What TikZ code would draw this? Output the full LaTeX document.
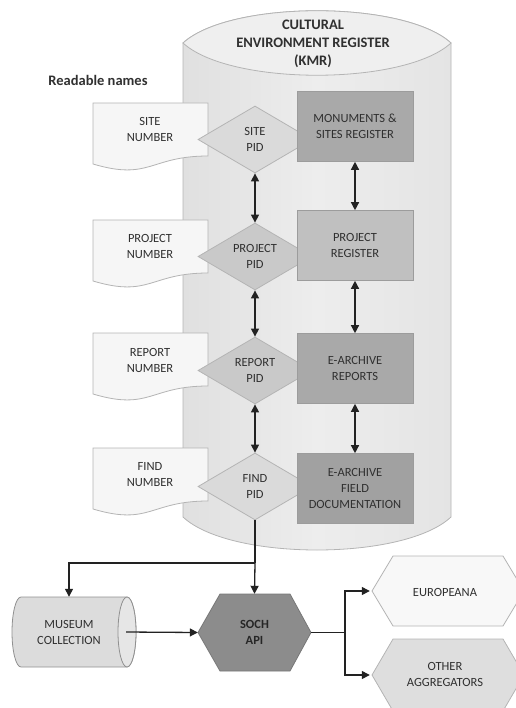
\documentclass[tikz,border=0pt]{standalone}
\usepackage{fontspec}
\setmainfont{Carlito}
\usetikzlibrary{arrows.meta,shapes.geometric}
\definecolor{txtc}{HTML}{303030}
\definecolor{kmrA}{HTML}{E0E0E0}
\definecolor{kmrB}{HTML}{EDEDED}
\definecolor{kmrC}{HTML}{E4E4E4}
\definecolor{lidc}{HTML}{EFEFEF}
\definecolor{edgec}{HTML}{B4B4B4}
\definecolor{docc}{HTML}{F6F6F6}
\definecolor{pidL}{HTML}{DADADA}
\definecolor{pidD}{HTML}{C9C9C9}
\definecolor{regD}{HTML}{A9A9A9}
\definecolor{regL}{HTML}{C0C0C0}
\definecolor{regE}{HTML}{9C9C9C}
\definecolor{museumc}{HTML}{DCDCDC}
\definecolor{museumend}{HTML}{E6E6E6}
\definecolor{sochc}{HTML}{8C8C8C}
\definecolor{eurc}{HTML}{F8F8F8}
\definecolor{othc}{HTML}{DEDEDE}
\definecolor{arrc}{HTML}{222222}
\tikzset{
  txt/.style={align=center, text=txtc, font=\fontsize{12.5}{16}\selectfont, inner sep=0pt},
  boldtxt/.style={align=center, text=txtc, font=\bfseries\fontsize{14.5}{18}\selectfont, inner sep=0pt},
  shapeedge/.style={draw=edgec, line width=0.8pt},
  docshape/.style={shapeedge, fill=docc},
  pid/.style={txt, shape=diamond, shape aspect=1.7, minimum width=114pt, minimum height=67pt, draw=edgec, line width=0.8pt},
  regbox/.style={txt, rectangle, minimum width=116pt, minimum height=70pt, draw=regE, line width=0.6pt},
  dbl/.style={draw=arrc, line width=1.3pt, {Triangle[length=8pt,width=8pt]}-{Triangle[length=8pt,width=8pt]}},
  arr/.style={draw=arrc, line width=1.3pt, -{Triangle[length=8pt,width=8pt]}},
  plainline/.style={draw=arrc, line width=1.3pt},
}
\newcommand\docpath[1]{(93,#1) -- (208,#1) -- (208,#1+53) .. controls (150,#1+53) and (150,#1+78) .. (93,#1+61) -- cycle}
\begin{document}
\begin{tikzpicture}[x=1pt,y=-1pt]
\useasboundingbox (0,0) rectangle (515,708);
% KMR cylinder
\shade[left color=kmrA, right color=kmrC, middle color=kmrB]
  (183,43) -- (183,517) .. controls (230,561) and (404,561) .. (451,517) -- (451,43)
  .. controls (404,0) and (230,0) .. (183,43) -- cycle;
\draw[shapeedge]
  (183,43) -- (183,517) .. controls (230,561) and (404,561) .. (451,517) -- (451,43)
  .. controls (404,0) and (230,0) .. (183,43) -- cycle;
\draw[shapeedge, fill=lidc]
  (183,43) .. controls (230,0) and (404,0) .. (451,43)
  .. controls (404,86) and (230,86) .. (183,43) -- cycle;
\node[boldtxt] (kmr) at (313,44) {CULTURAL\\ENVIRONMENT REGISTER\\(KMR)};
\node[boldtxt, anchor=center] (readable) at (98,80) {Readable names};
% documents
\draw[docshape] \docpath{103};
\node[txt] (sitenum) at (150,129) {SITE\\NUMBER};
\draw[docshape] \docpath{220};
\node[txt] (projnum) at (150,246) {PROJECT\\NUMBER};
\draw[docshape] \docpath{333};
\node[txt] (repnum) at (150,360) {REPORT\\NUMBER};
\draw[docshape] \docpath{448};
\node[txt] (findnum) at (150,475) {FIND\\NUMBER};
% PIDs
\node[pid, fill=pidL] (sitepid) at (255,139.5) {SITE\\PID};
\node[pid, fill=pidD] (projpid) at (255,256.5) {PROJECT\\PID};
\node[pid, fill=pidD] (reppid) at (255,370.5) {REPORT\\PID};
\node[pid, fill=pidL] (findpid) at (255,486.5) {FIND\\PID};
% registers
\node[regbox, fill=regD] (msr) at (355,126.5) {MONUMENTS \&\\SITES REGISTER};
\node[regbox, fill=regL] (projreg) at (355,245.5) {PROJECT\\REGISTER};
\node[regbox, fill=regD] (earch) at (355,368.5) {E-ARCHIVE\\REPORTS};
\node[regbox, fill=regD!95!black] (efield) at (355,488.5) {E-ARCHIVE\\FIELD\\DOCUMENTATION};
% double arrows
\draw[dbl] (sitepid.south) -- (projpid.north);
\draw[dbl] (projpid.south) -- (reppid.north);
\draw[dbl] (reppid.south) -- (findpid.north);
\draw[dbl] (msr.south) -- (projreg.north);
\draw[dbl] (projreg.south) -- (earch.north);
\draw[dbl] (earch.south) -- (efield.north);
% museum collection cylinder
\draw[draw=edgec!80!black, line width=0.8pt, fill=museumc]
  (21,597) -- (127,597) .. controls (132,597) and (136,612.7) .. (136,632)
  .. controls (136,651.3) and (132,667) .. (127,667) -- (21,667)
  .. controls (16,667) and (12,651.3) .. (12,632)
  .. controls (12,612.7) and (16,597) .. (21,597) -- cycle;
\draw[draw=edgec!80!black, line width=0.8pt, fill=museumend] (127,632) ellipse [x radius=9, y radius=35];
\node[txt, minimum width=114pt, minimum height=70pt] (museum) at (69,632) {MUSEUM\\COLLECTION};
% SOCH API
\draw[draw=sochc!85!black, line width=0.8pt, fill=sochc]
  (198,632.5) -- (220,594) -- (290,594) -- (311,632.5) -- (290,671) -- (220,671) -- cycle;
\node[txt, font=\bfseries\fontsize{12.5}{16}\selectfont, text=black!85, minimum width=113pt, minimum height=77pt] (soch) at (254.5,632.5) {SOCH\\API};
% Europeana
\draw[shapeedge, fill=eurc]
  (372,591) -- (393,556) -- (503,556) -- (524,591) -- (503,626) -- (393,626) -- cycle;
\node[txt, minimum width=152pt, minimum height=70pt] (europeana) at (448,591) {};
\node[txt] (eurlabel) at (445,592) {EUROPEANA};
% Other aggregators
\draw[shapeedge, fill=othc]
  (372,675) -- (393,639) -- (503,639) -- (524,675) -- (503,711) -- (393,711) -- cycle;
\node[txt, minimum width=152pt, minimum height=72pt] (others) at (448,675) {};
\node[txt] (othlabel) at (445,674) {OTHER\\AGGREGATORS};
% connectors
\coordinate (split) at (255,563);
\coordinate (fork) at (345,632.5);
\draw[plainline] (findpid.south) -- (split);
\draw[arr] (split) -| (museum.north);
\draw[arr] (split) -- (soch.north);
\draw[arr] (museum.east) -- (soch.west);
\draw[plainline] (soch.east) -- (fork);
\draw[arr, shorten >=2pt] (fork) |- (europeana.west);
\draw[arr, shorten >=2pt] (fork) |- (others.west);
\end{tikzpicture}
\end{document}
